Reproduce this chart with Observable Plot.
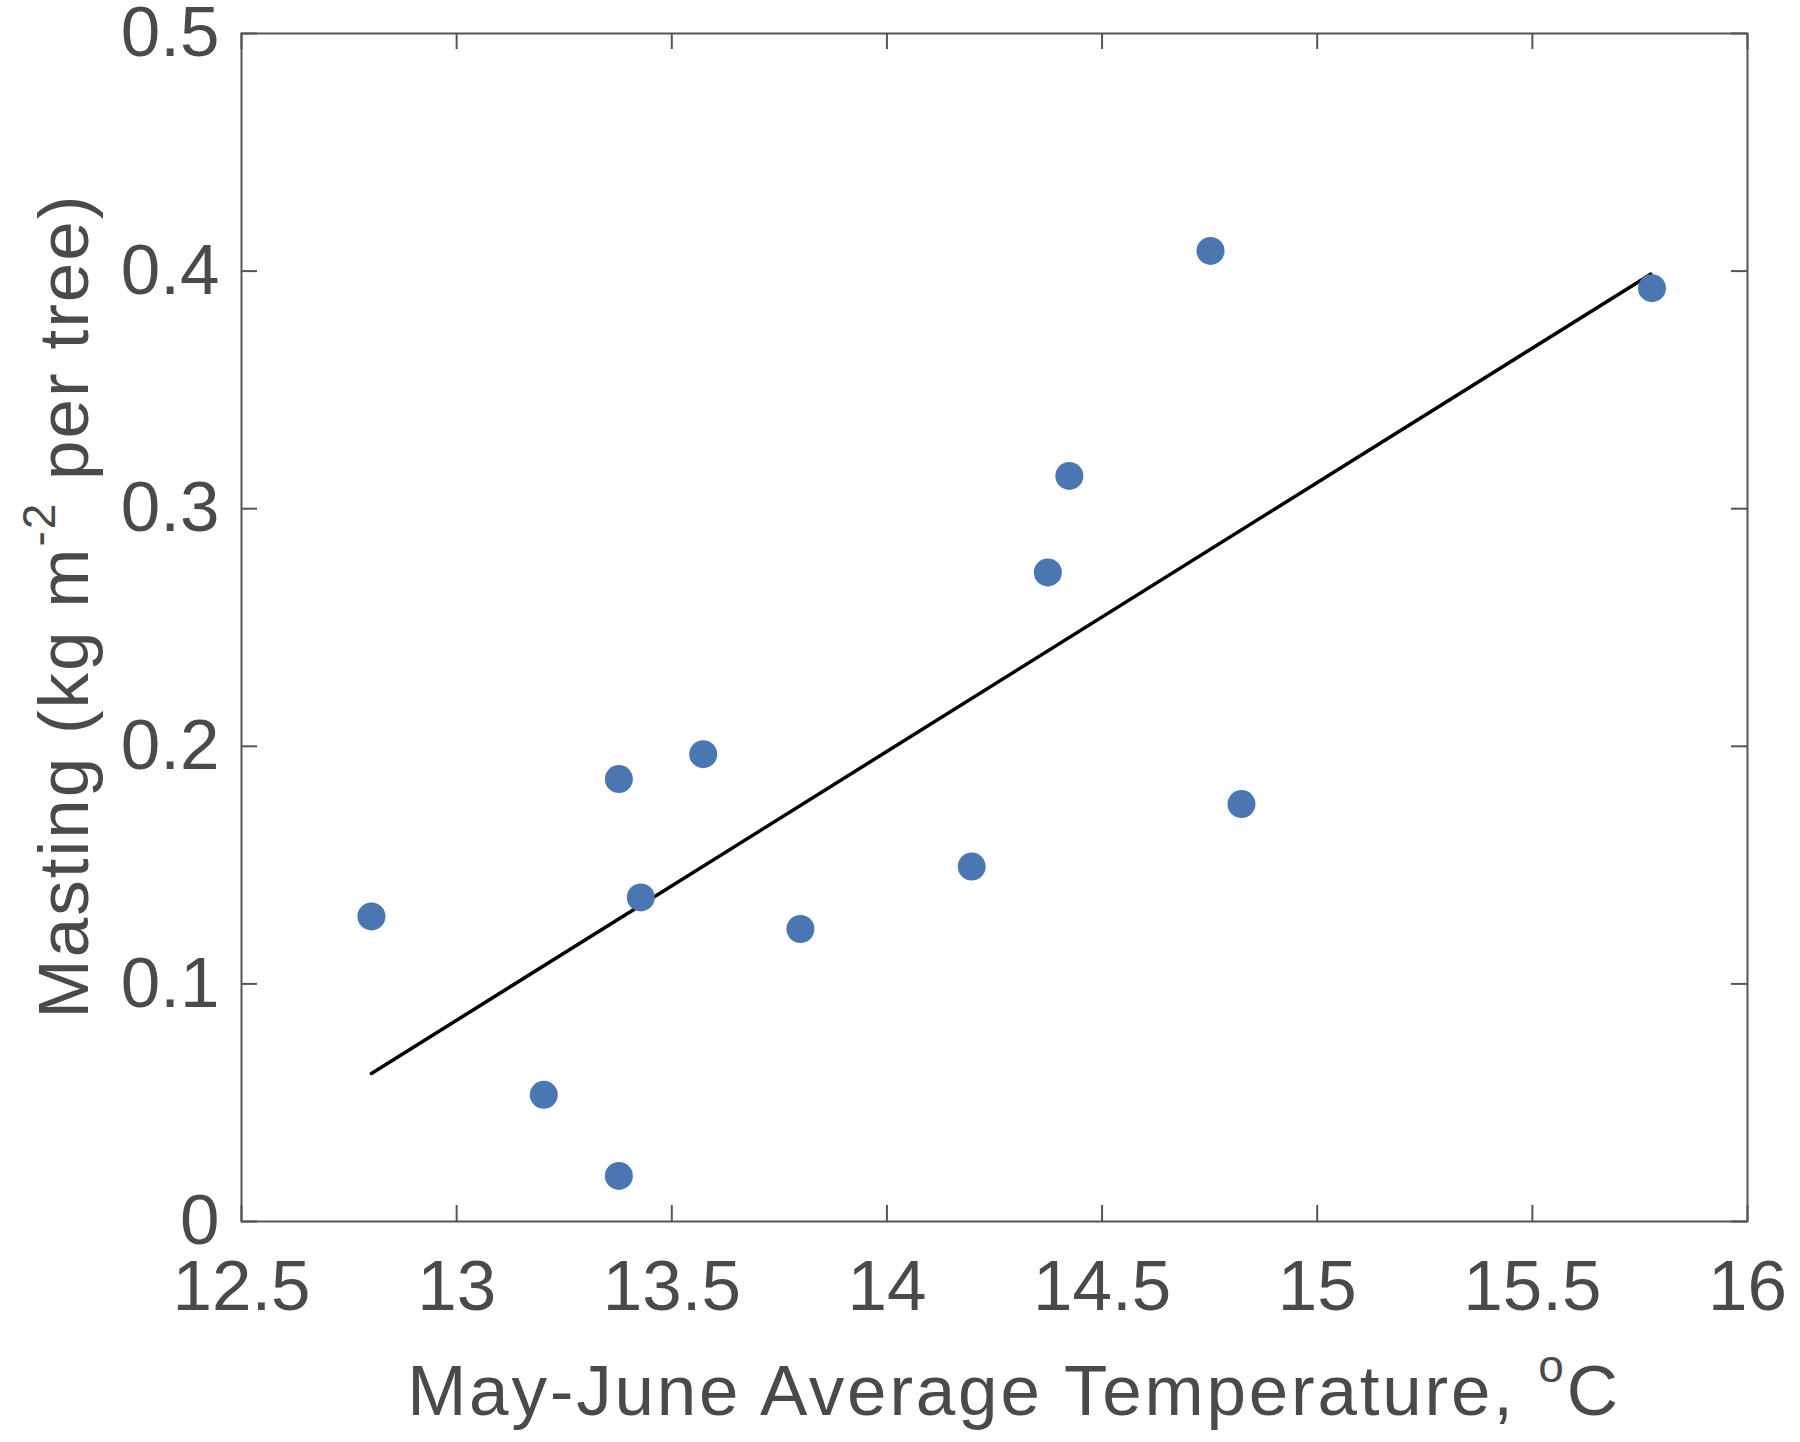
<!DOCTYPE html>
<html>
<head>
<meta charset="utf-8">
<script src="https://cdn.jsdelivr.net/npm/d3@7"></script>
<script src="https://cdn.jsdelivr.net/npm/@observablehq/plot@0.6"></script>
<style>
  html, body { margin: 0; padding: 0; background: #ffffff; }
  #chart { width: 1800px; height: 1442px; }
</style>
</head>
<body>
<div id="chart"></div>
<script>
// Data
const temperature = [12.802, 13.2025, 13.377, 13.377, 13.428, 13.573, 13.799, 14.197, 14.374, 14.424, 14.752, 14.824, 15.778];
const masting     = [0.1284, 0.0533, 0.1862, 0.0192, 0.1364, 0.1967, 0.1231, 0.1494, 0.2732, 0.3138, 0.4085, 0.1757, 0.3928];
const fitX = [12.802, 15.775];
const fitY = [0.0623, 0.3987];
const xTicks = [12.5, 13, 13.5, 14, 14.5, 15, 15.5, 16];
const yTicks = [0, 0.1, 0.2, 0.3, 0.4, 0.5];
const xLabel = [["May-June Average Temperature, ", false], ["o", true], ["C", false]];
const yLabel = [["Masting (kg m", false], ["-2", true], [" per tree)", false]];

const points = temperature.map((t, i) => ({t, m: masting[i]}));
const fit = fitX.map((x, i) => ({x, y: fitY[i]}));

const W = 1800, H = 1442;
const mL = 241, mR = 53, mT = 33, mB = 221;
const innerW = W - mL - mR, innerH = H - mT - mB;
const axisColor = "#555555";
const textColor = "#4a4a4a";
const tickLen = 16;
const fontSize = 71;

const chart = Plot.plot({
  width: W,
  height: H,
  marginLeft: mL,
  marginRight: mR,
  marginTop: mT,
  marginBottom: mB,
  style: {
    fontFamily: "'Liberation Sans', Arial, Helvetica, sans-serif",
    fontSize: fontSize + "px",
    color: textColor,
    background: "#ffffff"
  },
  x: {domain: [12.5, 16]},
  y: {domain: [0, 0.5]},
  marks: [
    Plot.axisX(xTicks, {anchor: "bottom", tickSize: 0, tickPadding: 38, label: null, fontSize: fontSize, tickFormat: d => String(d), fill: textColor}),
    Plot.axisY(yTicks, {anchor: "left", tickSize: 0, tickPadding: 22, label: null, fontSize: fontSize, tickFormat: d => String(d), fill: textColor}),
    // inward ticks, bottom and top
    Plot.tickX(xTicks, {x: d => d, stroke: axisColor, strokeWidth: 2, insetTop: innerH - tickLen}),
    Plot.tickX(xTicks, {x: d => d, stroke: axisColor, strokeWidth: 2, insetBottom: innerH - tickLen}),
    // inward ticks, left and right
    Plot.tickY(yTicks, {y: d => d, stroke: axisColor, strokeWidth: 2, insetRight: innerW - tickLen}),
    Plot.tickY(yTicks, {y: d => d, stroke: axisColor, strokeWidth: 2, insetLeft: innerW - tickLen}),
    Plot.frame({stroke: axisColor, strokeWidth: 2}),
    Plot.line(fit, {x: "x", y: "y", stroke: "#000000", strokeWidth: 3.5}),
    Plot.dot(points, {x: "t", y: "m", r: 14, fill: "#4a76b2", stroke: "none"})
  ]
});

document.getElementById("chart").appendChild(chart);

// Axis titles with superscripts (real text)
const svg = d3.select(chart);
function addLabel(parts, transform, spacing) {
  const t = svg.append("text")
    .attr("transform", transform)
    .attr("text-anchor", "middle")
    .attr("fill", textColor)
    .attr("font-family", "'Liberation Sans', Arial, Helvetica, sans-serif")
    .attr("font-size", fontSize)
    .attr("letter-spacing", spacing);
  let raised = false;
  for (const [s, sup] of parts) {
    const ts = t.append("tspan").text(s);
    if (sup && !raised) { ts.attr("dy", -33).attr("font-size", 46); raised = true; }
    else if (!sup && raised) { ts.attr("dy", 33).attr("font-size", fontSize); raised = false; }
  }
}
addLabel(xLabel, "translate(1014,1415)", 2.8);
addLabel(yLabel, "translate(88,606) rotate(-90)", 2.0);
</script>
</body>
</html>
